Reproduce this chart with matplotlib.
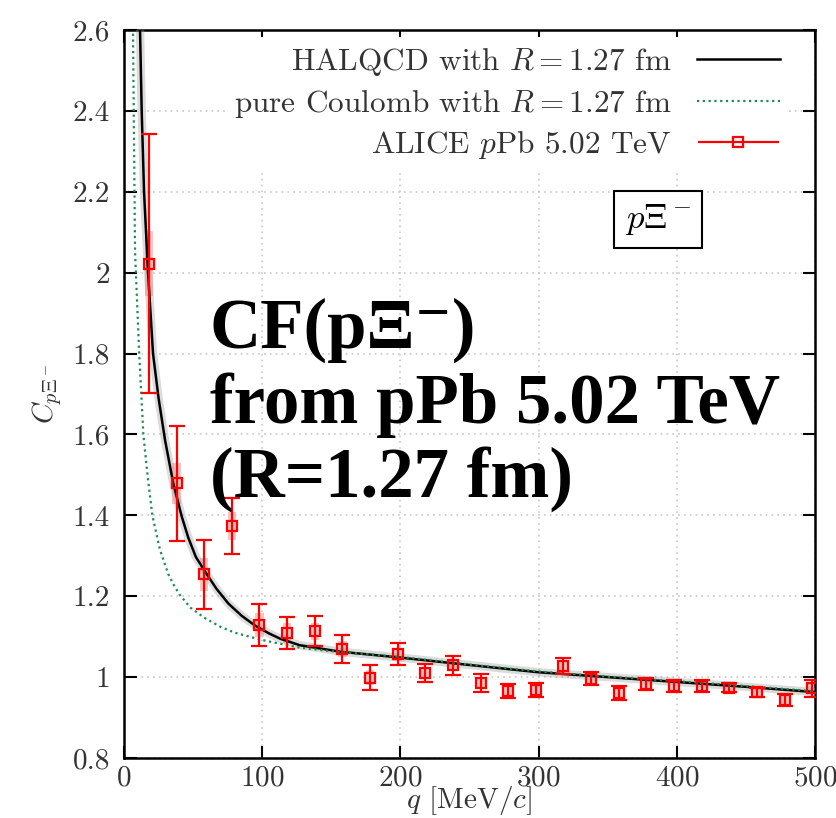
import matplotlib
matplotlib.use("Agg")
import matplotlib.pyplot as plt
from matplotlib.legend_handler import HandlerErrorbar

plt.rcParams["font.family"] = "cmr10"
plt.rcParams["mathtext.fontset"] = "cm"
plt.rcParams["axes.formatter.use_mathtext"] = True

# ALICE pPb 5.02 TeV data points
q_data = [18, 38, 58, 78, 98, 118, 138, 158, 178, 198, 218, 238, 258,
          278, 298, 318, 338, 358, 378, 398, 418, 438, 458, 478, 498]
c_data = [2.022, 1.479, 1.254, 1.373, 1.129, 1.109, 1.113, 1.070, 0.999,
          1.057, 1.011, 1.029, 0.985, 0.966, 0.968, 1.028, 0.996, 0.960,
          0.983, 0.977, 0.977, 0.974, 0.962, 0.943, 0.972]
stat_err = [0.32, 0.142, 0.085, 0.069, 0.052, 0.04, 0.037, 0.035, 0.03,
            0.027, 0.022, 0.023, 0.022, 0.018, 0.018, 0.02, 0.016, 0.017,
            0.016, 0.015, 0.015, 0.012, 0.012, 0.015, 0.02]
sys_err = [0.08, 0.05, 0.04, 0.035, 0.03, 0.025, 0.022, 0.02, 0.018,
           0.016, 0.015, 0.015, 0.014, 0.013, 0.013, 0.013, 0.013, 0.012,
           0.012, 0.012, 0.012, 0.012, 0.012, 0.012, 0.012]

# HALQCD curve
q_hal = [10, 11.6, 12.8, 14.5, 17.4, 21, 25, 29.7, 35.6, 41.7, 46.5, 52,
         59.8, 67, 75.5, 85, 95, 105, 113, 127, 156, 195, 250, 300, 350,
         400, 450, 500]
c_hal = [2.95, 2.6, 2.4, 2.2, 2.0, 1.8, 1.69, 1.586, 1.48, 1.398, 1.345,
         1.297, 1.255, 1.218, 1.182, 1.152, 1.127, 1.108, 1.095, 1.079,
         1.063, 1.05, 1.03, 1.012, 1.0, 0.988, 0.976, 0.963]

# pure Coulomb curve
q_coul = [5, 6.5, 8, 11, 14, 17, 20.5, 26, 32, 36, 40, 48, 58, 70, 80,
          95, 105, 127, 150, 200, 250, 300, 350, 400, 450, 500]
c_coul = [3.2, 2.6, 2.05, 1.8, 1.6, 1.5, 1.40, 1.315, 1.255, 1.228, 1.205,
          1.172, 1.147, 1.124, 1.110, 1.096, 1.088, 1.073, 1.064, 1.05,
          1.031, 1.014, 1.001, 0.99, 0.978, 0.965]

red = "#ff0000"
green = "#1f8a50"

fig = plt.figure(figsize=(8.37, 8.18), dpi=100)
ax = fig.add_axes([124 / 837, 1 - 758 / 818, 691 / 837, 728 / 818])

# systematic boxes
sys_bottom = [c - s for c, s in zip(c_data, sys_err)]
sys_height = [2 * s for s in sys_err]
ax.bar(q_data, sys_height, bottom=sys_bottom, width=6, color="#ffb3b3",
       alpha=0.8, zorder=2, linewidth=0)

# curves
ax.plot(q_hal, c_hal, color="#999999", lw=6, alpha=0.35, zorder=3)
ax.plot(q_hal, c_hal, color="black", lw=1.8, zorder=4,
        label=r"HALQCD with $R = 1.27$ fm")
ax.plot(q_coul, c_coul, color=green, lw=1.6, ls=(0, (1, 1.6)), zorder=4,
        label=r"pure Coulomb with $R = 1.27$ fm")

ax.errorbar(q_data, c_data, yerr=stat_err, fmt="s", ms=6.5, mfc="none",
            mec=red, mew=1.6, ecolor=red, elinewidth=1.6, capsize=5.5,
            capthick=1.6, zorder=5)
proxy = ax.errorbar([], [], xerr=[], fmt="s", ms=6.5, mfc="none", mec=red,
                    mew=1.6, ecolor=red, elinewidth=1.6, capsize=5.5,
                    capthick=1.6, label=r"ALICE $p$Pb 5.02 TeV")

ax.set_xlim(0, 500)
ax.set_ylim(0.8, 2.6)
ax.set_xticks([0, 100, 200, 300, 400, 500])
ax.set_yticks([0.8, 1.0, 1.2, 1.4, 1.6, 1.8, 2.0, 2.2, 2.4, 2.6])
ax.set_yticklabels(["0.8", "1", "1.2", "1.4", "1.6", "1.8", "2", "2.2",
                    "2.4", "2.6"])
ax.tick_params(direction="in", top=True, right=True, length=9, width=1.5,
               labelsize=21, colors="black", labelcolor="#333333")
ax.tick_params(axis="y", pad=10)
ax.tick_params(axis="x", pad=5)
ax.grid(True, color="#c8c8c8", ls=(0, (1, 2.5)), lw=1.2)
ax.set_axisbelow(True)
for sp in ax.spines.values():
    sp.set_linewidth(1.8)

ax.set_xlabel(r"$q$ [MeV/$c$]", fontsize=21, labelpad=-5, color="#333333")
ax.set_ylabel(r"$C_{p\Xi^-}$", fontsize=21, labelpad=6, color="#333333")

leg = ax.legend(handles=ax.get_legend_handles_labels()[0],
                loc="upper right", bbox_to_anchor=(0.985, 1.012),
                markerfirst=False, fontsize=22.5, handlelength=2.65,
                handletextpad=0.8, labelspacing=0.3, borderpad=0.3,
                frameon=True, fancybox=False, framealpha=1,
                handler_map={type(proxy): HandlerErrorbar(xerr_size=1.3)})
leg.get_frame().set_edgecolor("none")
for t in leg.get_texts():
    t.set_color("#333333")

ax.text(0.773, 0.740, r"$p\Xi^-$", transform=ax.transAxes, fontsize=25,
        ha="center", va="center", zorder=6,
        bbox=dict(boxstyle="square,pad=0.32", fc="white", ec="black", lw=1.5))

fig.text(210 / 837, 1 - 405 / 818, "CF(pΞ⁻)\nfrom pPb 5.02 TeV\n(R=1.27 fm)",
         family=["Liberation Serif", "DejaVu Serif"], fontweight="bold",
         fontsize=51, ha="left", va="center", linespacing=1.17, zorder=10)

fig.savefig("out.png", dpi=100)
